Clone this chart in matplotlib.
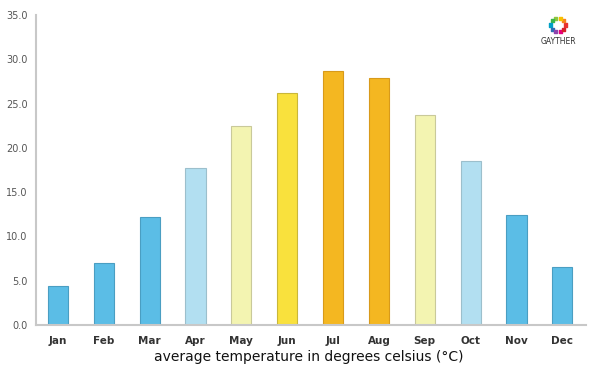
import numpy as np
import matplotlib
matplotlib.use("Agg")
import matplotlib.pyplot as plt

months = ["Jan", "Feb", "Mar", "Apr", "May", "Jun",
          "Jul", "Aug", "Sep", "Oct", "Nov", "Dec"]
temps = [4.4, 7.0, 12.2, 17.7, 22.5, 26.2, 28.7, 27.9, 23.7, 18.5, 12.4, 6.5]

dark_blue = "#5bbde6"
light_blue = "#b2dff1"
pale_yellow = "#f3f4b1"
yellow = "#f9e13d"
orange = "#f4b721"
colors = [dark_blue, dark_blue, dark_blue, light_blue, pale_yellow, yellow,
          orange, orange, pale_yellow, light_blue, dark_blue, dark_blue]
edges = ["#4a9ec2", "#4a9ec2", "#4a9ec2", "#9cbfcc", "#c9c99a", "#c9b73a",
         "#d89a1a", "#d89a1a", "#c9c99a", "#9cbfcc", "#4a9ec2", "#4a9ec2"]

fig = plt.figure(figsize=(6, 3.75), dpi=100)
ax = fig.add_axes([0.06, 0.1333, 0.917, 0.8267])

x = np.arange(len(months))
ax.bar(x, temps, width=0.44, color=colors, edgecolor=edges, linewidth=0.8)

ax.set_xlim(-0.48, 11.52)
ax.set_ylim(0, 35)
ax.set_yticks(np.arange(0, 36, 5))
ax.set_yticklabels([f"{v:.1f}" for v in np.arange(0, 36, 5)], fontsize=7, color="#555555")
ax.set_xticks(x)
ax.set_xticklabels(months, fontsize=7.5, color="#333333", fontweight="semibold")
ax.tick_params(length=0)
ax.tick_params(axis="x", pad=8)
ax.tick_params(axis="y", pad=6)

for side in ["top", "right"]:
    ax.spines[side].set_visible(False)
for side in ["left", "bottom"]:
    ax.spines[side].set_color("#c8c8c8")
    ax.spines[side].set_linewidth(1.5)

fig.text(0.515, 0.048, "average temperature in degrees celsius (°C)",
         ha="center", va="center", fontsize=10, color="#111111")

# logo: ring of coloured dots + name
ring_cols = ["#e8312f", "#f58220", "#f9c000", "#8dc63f", "#3ab54a",
             "#00a0c6", "#2e6eb5", "#8e44ad", "#e6007e", "#d6202a"]
ang = np.linspace(0, 2 * np.pi, len(ring_cols), endpoint=False)
lx = 558 / 600 + 0.012 * np.cos(ang)
ly = 1 - 25 / 375 + 0.019 * np.sin(ang)
logo_ax = fig.add_axes([0, 0, 1, 1], facecolor="none")
logo_ax.set_axis_off()
logo_ax.set_xlim(0, 1)
logo_ax.set_ylim(0, 1)
logo_ax.scatter(lx, ly, s=5, c=ring_cols, marker="s")
fig.text(558 / 600, 1 - 41 / 375, "GAYTHER", ha="center", va="center",
         fontsize=5.5, color="#333333")

fig.savefig("out.png", dpi=100)
